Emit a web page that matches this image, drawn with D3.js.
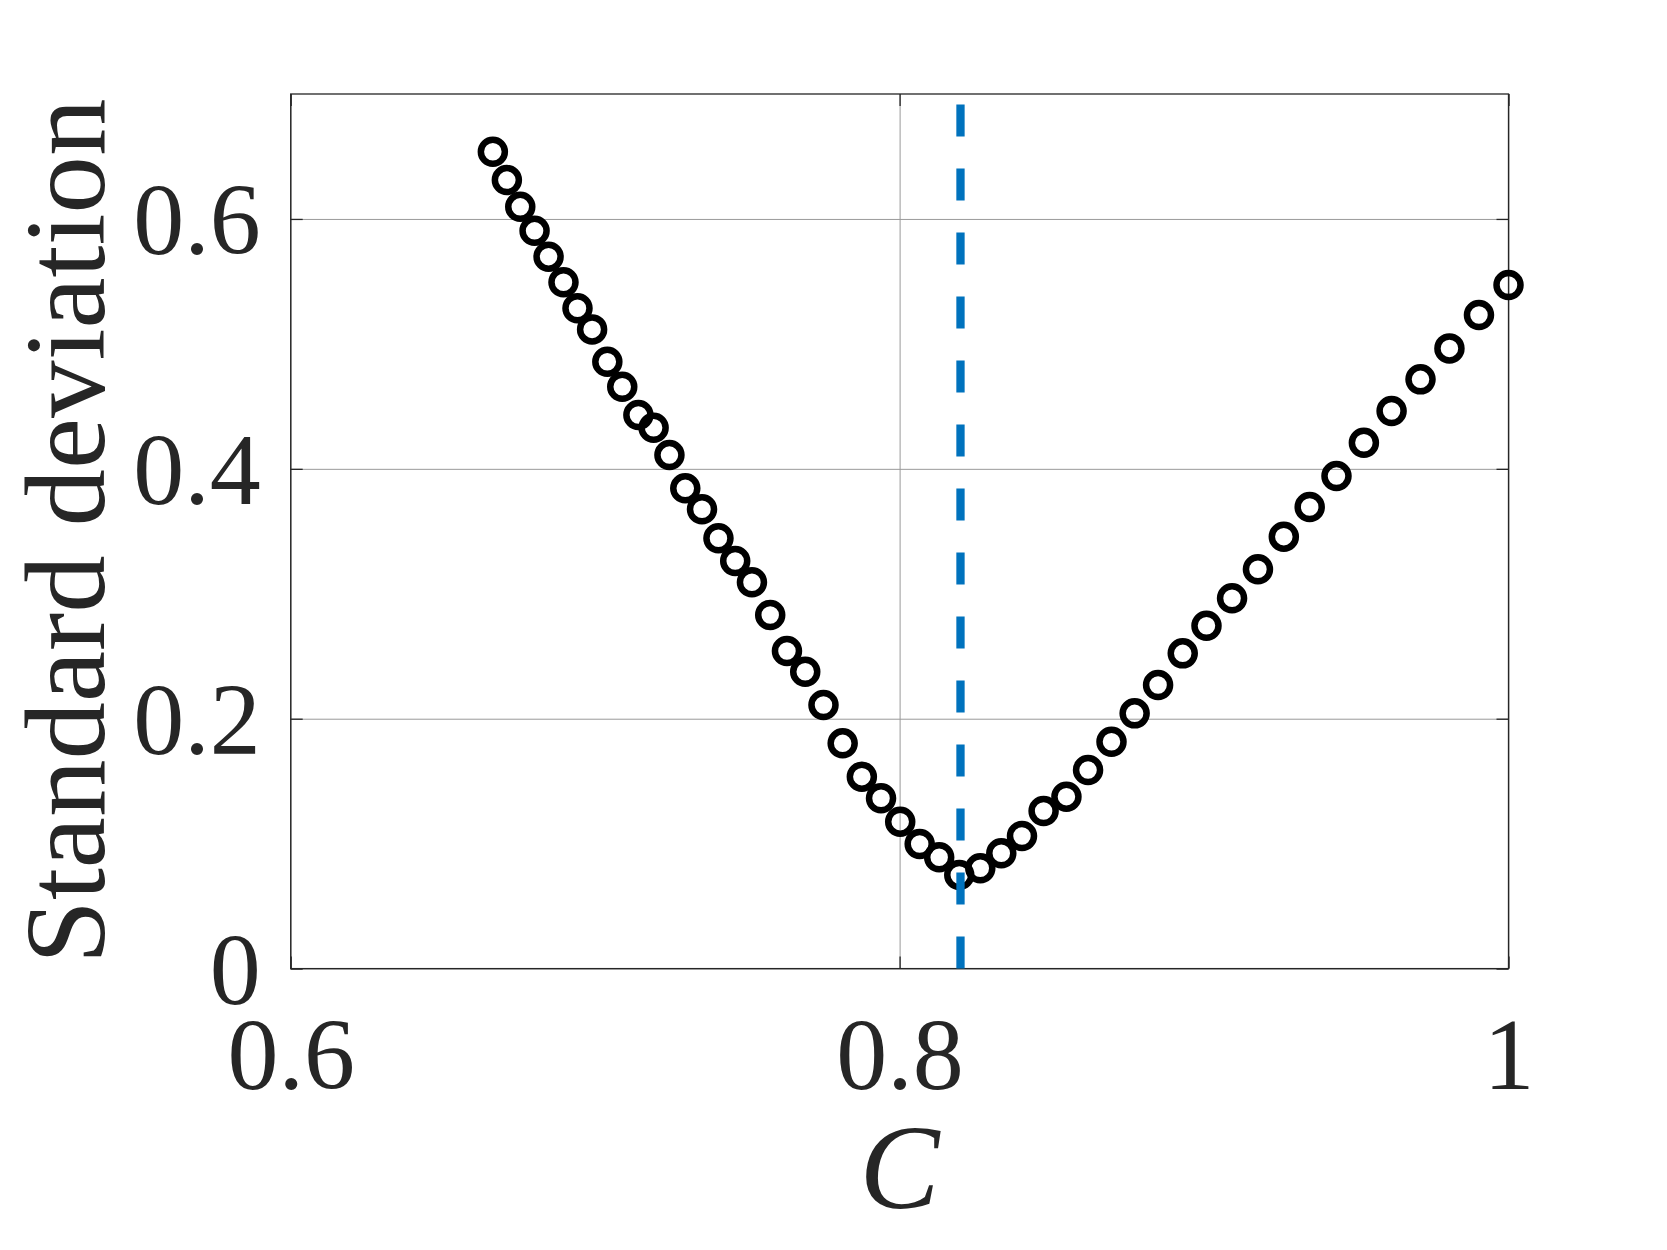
<!DOCTYPE html>
<html>
<head>
<meta charset="utf-8">
<script src="https://cdn.jsdelivr.net/npm/d3@7"></script>
<style>
  html, body { margin: 0; padding: 0; background: #ffffff; }
  svg { display: block; }
  svg text { font-family: "Liberation Serif", "Times New Roman", Tinos, "DejaVu Serif", serif; }
</style>
</head>
<body>
<svg id="chart" width="1667" height="1250"></svg>
<script>
// ---- data ----
const C = [
  0.6664, 0.6710, 0.6754, 0.6801, 0.6847, 0.6896, 0.6942, 0.6990, 0.7040, 0.7089,
  0.7142, 0.7192, 0.7244, 0.7296, 0.7351, 0.7405, 0.7460, 0.7515, 0.7575, 0.7630,
  0.7690, 0.7750, 0.7813, 0.7876, 0.7939, 0.8002, 0.8066, 0.8130, 0.8196, 0.8265,
  0.8334, 0.8402, 0.8473, 0.8548, 0.8619, 0.8696, 0.8772, 0.8849, 0.8930, 0.9008,
  0.9092, 0.9177, 0.9262, 0.9347, 0.9435, 0.9525, 0.9616, 0.9711, 0.9806, 0.9903,
  1.0000
];
const SD = [
  0.6538, 0.6311, 0.6097, 0.5905, 0.5698, 0.5493, 0.5285, 0.5116, 0.4857, 0.4657,
  0.4431, 0.4329, 0.4110, 0.3844, 0.3676, 0.3444, 0.3262, 0.3092, 0.2830, 0.2542,
  0.2376, 0.2110, 0.1803, 0.1536, 0.1363, 0.1176, 0.0997, 0.0891, 0.0749, 0.0803,
  0.0923, 0.1061, 0.1261, 0.1376, 0.1589, 0.1816, 0.2043, 0.2270, 0.2523, 0.2744,
  0.2964, 0.3196, 0.3457, 0.3694, 0.3942, 0.4209, 0.4463, 0.4716, 0.4964, 0.5231,
  0.5471
];
const criticalC = 0.82;

const xDomain = [0.6, 1.0];
const yDomain = [0, 0.7];
const xTicks = [0.6, 0.8, 1.0];
const xTickLabels = ["0.6", "0.8", "1"];
const yTicks = [0, 0.2, 0.4, 0.6];
const yTickLabels = ["0", "0.2", "0.4", "0.6"];
const xLabel = "C";
const yLabel = "Standard deviation";

// ---- layout ----
const L = 290.7, R = 1508.5, T = 94.0, B = 968.6;
const W = R - L, H = B - T;
const textColor = "#262626";
const gridColor = "#999999";
const tickFont = 102;
const xLabelFont = 120;
const yLabelFont = 115;

const svg = d3.select("#chart");
svg.append("rect").attr("width", 1667).attr("height", 1250).attr("fill", "#ffffff");

const x = d3.scaleLinear().domain(xDomain).range([L, R]);
const y = d3.scaleLinear().domain(yDomain).range([B, T]);

// grid lines
const gx = svg.append("g").attr("transform", `translate(0,${B})`)
  .call(d3.axisBottom(x).tickValues(xTicks).tickSize(-H).tickFormat(""));
gx.select(".domain").remove();
gx.selectAll("line").attr("stroke", gridColor).attr("stroke-width", 1);

const gy = svg.append("g").attr("transform", `translate(${L},0)`)
  .call(d3.axisLeft(y).tickValues(yTicks).tickSize(-W).tickFormat(""));
gy.select(".domain").remove();
gy.selectAll("line").attr("stroke", gridColor).attr("stroke-width", 1);

// inner tick marks on all four sides
function styleTicks(g) {
  g.select(".domain").remove();
  g.selectAll("line").attr("stroke", textColor).attr("stroke-width", 1.3);
}
svg.append("g").attr("transform", `translate(${L},0)`)
  .call(d3.axisRight(y).tickValues(yTicks).tickSize(12).tickFormat("")).call(styleTicks);
svg.append("g").attr("transform", `translate(${R},0)`)
  .call(d3.axisLeft(y).tickValues(yTicks).tickSize(12).tickFormat("")).call(styleTicks);
svg.append("g").attr("transform", `translate(0,${B})`)
  .call(d3.axisTop(x).tickValues(xTicks).tickSize(12).tickFormat("")).call(styleTicks);
svg.append("g").attr("transform", `translate(0,${T})`)
  .call(d3.axisBottom(x).tickValues(xTicks).tickSize(12).tickFormat("")).call(styleTicks);

// box
svg.append("rect")
  .attr("x", L).attr("y", T).attr("width", W).attr("height", H)
  .attr("fill", "none").attr("stroke", textColor).attr("stroke-width", 1.3);

// tick labels
const yl = svg.append("g").attr("transform", `translate(${L},0)`)
  .call(d3.axisLeft(y).tickValues(yTicks).tickSize(0).tickPadding(30)
    .tickFormat((d, i) => yTickLabels[i]));
yl.select(".domain").remove();
yl.attr("font-family", null).attr("font-size", null);
yl.selectAll("text")
  .style("font-size", tickFont + "px")
  .attr("fill", textColor).attr("dy", "0.34em");

const xl = svg.append("g").attr("transform", `translate(0,${B})`)
  .call(d3.axisBottom(x).tickValues(xTicks).tickSize(0).tickPadding(50)
    .tickFormat((d, i) => xTickLabels[i]));
xl.select(".domain").remove();
xl.attr("font-family", null).attr("font-size", null);
xl.selectAll("text")
  .style("font-size", tickFont + "px")
  .attr("fill", textColor).attr("dy", "0.69em");

// axis titles
svg.append("text")
  .attr("x", (L + R) / 2).attr("y", 1208)
  .attr("text-anchor", "middle")
  .style("font-size", xLabelFont + "px")
  .attr("font-style", "italic").attr("fill", textColor)
  .text(xLabel);

svg.append("text")
  .attr("transform", `translate(104,${(T + B) / 2}) rotate(-90)`)
  .attr("text-anchor", "middle")
  .style("font-size", yLabelFont + "px")
  .attr("fill", textColor)
  .text(yLabel);

// markers
const pts = C.map((c, i) => ({ c, s: SD[i] }));
svg.append("g").selectAll("circle").data(pts).join("circle")
  .attr("cx", d => x(d.c)).attr("cy", d => y(d.s))
  .attr("r", 12)
  .attr("fill", "none").attr("stroke", "#000000").attr("stroke-width", 6.5);

// critical dashed line
svg.append("line")
  .attr("x1", x(criticalC)).attr("x2", x(criticalC))
  .attr("y1", y(yDomain[0])).attr("y2", y(yDomain[1]))
  .attr("stroke", "#0072BD").attr("stroke-width", 8.3)
  .attr("stroke-dasharray", "32,32");
</script>
</body>
</html>
